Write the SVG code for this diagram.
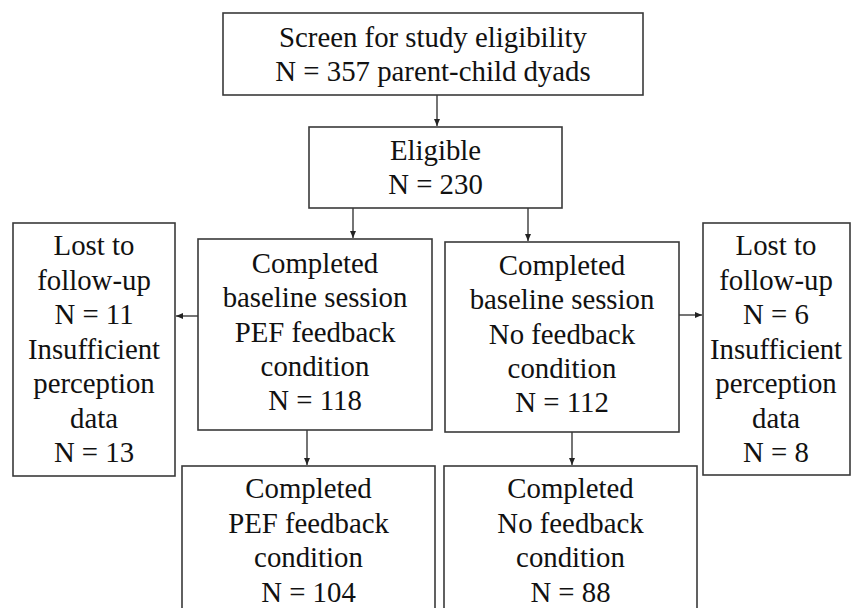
<svg xmlns="http://www.w3.org/2000/svg" width="852" height="608" viewBox="0 0 852 608">
<style>
.box{fill:#fff;stroke:#3a3a3a;stroke-width:1.6}
.t{font-family:'Liberation Serif','Times New Roman',serif;font-size:28.8px;fill:#111;text-anchor:middle}
.c{stroke:#3a3a3a;stroke-width:1.4;fill:none}
</style>
<defs>
<marker id="ah" markerUnits="userSpaceOnUse" markerWidth="8" markerHeight="8" refX="7" refY="4" orient="auto">
<path d="M0,1 L7,4 L0,7 Z" fill="#222"/>
</marker>
</defs>
<rect width="852" height="608" fill="#fff"/>
<g id="connectors">
<line class="c" x1="437" y1="95" x2="437" y2="126" marker-end="url(#ah)"/>
<line class="c" x1="353" y1="208" x2="353" y2="238" marker-end="url(#ah)"/>
<line class="c" x1="528" y1="208" x2="528" y2="241" marker-end="url(#ah)"/>
<line class="c" x1="198" y1="316" x2="176" y2="316" marker-end="url(#ah)"/>
<line class="c" x1="679" y1="315" x2="702" y2="315" marker-end="url(#ah)"/>
<line class="c" x1="307" y1="430" x2="307" y2="465" marker-end="url(#ah)"/>
<line class="c" x1="572" y1="432" x2="572" y2="465" marker-end="url(#ah)"/>
</g>
<g id="screen">
<rect class="box" x="223" y="13" width="420" height="82"/>
<text class="t" x="433" y="47">Screen for study eligibility</text>
<text class="t" x="433" y="81">N = 357 parent-child dyads</text>
</g>
<g id="eligible">
<rect class="box" x="309" y="127" width="253" height="81"/>
<text class="t" x="435.5" y="160">Eligible</text>
<text class="t" x="435.5" y="194">N = 230</text>
</g>
<g id="lost-left">
<rect class="box" x="13" y="223" width="162" height="253"/>
<text class="t" x="94" y="255">Lost to</text>
<text class="t" x="94" y="289.5">follow-up</text>
<text class="t" x="94" y="324">N = 11</text>
<text class="t" x="94" y="358.5">Insufficient</text>
<text class="t" x="94" y="393">perception</text>
<text class="t" x="94" y="427.5">data</text>
<text class="t" x="94" y="462">N = 13</text>
</g>
<g id="baseline-pef">
<rect class="box" x="198" y="239" width="234" height="191"/>
<text class="t" x="315" y="273">Completed</text>
<text class="t" x="315" y="307.3">baseline session</text>
<text class="t" x="315" y="341.6">PEF feedback</text>
<text class="t" x="315" y="375.9">condition</text>
<text class="t" x="315" y="410">N = 118</text>
</g>
<g id="baseline-no">
<rect class="box" x="445" y="242" width="234" height="190"/>
<text class="t" x="562" y="275">Completed</text>
<text class="t" x="562" y="309.2">baseline session</text>
<text class="t" x="562" y="343.5">No feedback</text>
<text class="t" x="562" y="377.7">condition</text>
<text class="t" x="562" y="412">N = 112</text>
</g>
<g id="lost-right">
<rect class="box" x="703" y="223" width="147" height="252"/>
<text class="t" x="776" y="255">Lost to</text>
<text class="t" x="776" y="289.5">follow-up</text>
<text class="t" x="776" y="324">N = 6</text>
<text class="t" x="776" y="358.5">Insufficient</text>
<text class="t" x="776" y="393">perception</text>
<text class="t" x="776" y="427.5">data</text>
<text class="t" x="776" y="462">N = 8</text>
</g>
<g id="completed-pef">
<rect class="box" x="182" y="466" width="253" height="160"/>
<text class="t" x="308.5" y="498">Completed</text>
<text class="t" x="308.5" y="533">PEF feedback</text>
<text class="t" x="308.5" y="567">condition</text>
<text class="t" x="308.5" y="602">N = 104</text>
</g>
<g id="completed-no">
<rect class="box" x="444" y="466" width="253" height="160"/>
<text class="t" x="570.5" y="498">Completed</text>
<text class="t" x="570.5" y="533">No feedback</text>
<text class="t" x="570.5" y="567">condition</text>
<text class="t" x="570.5" y="602">N = 88</text>
</g>
</svg>
